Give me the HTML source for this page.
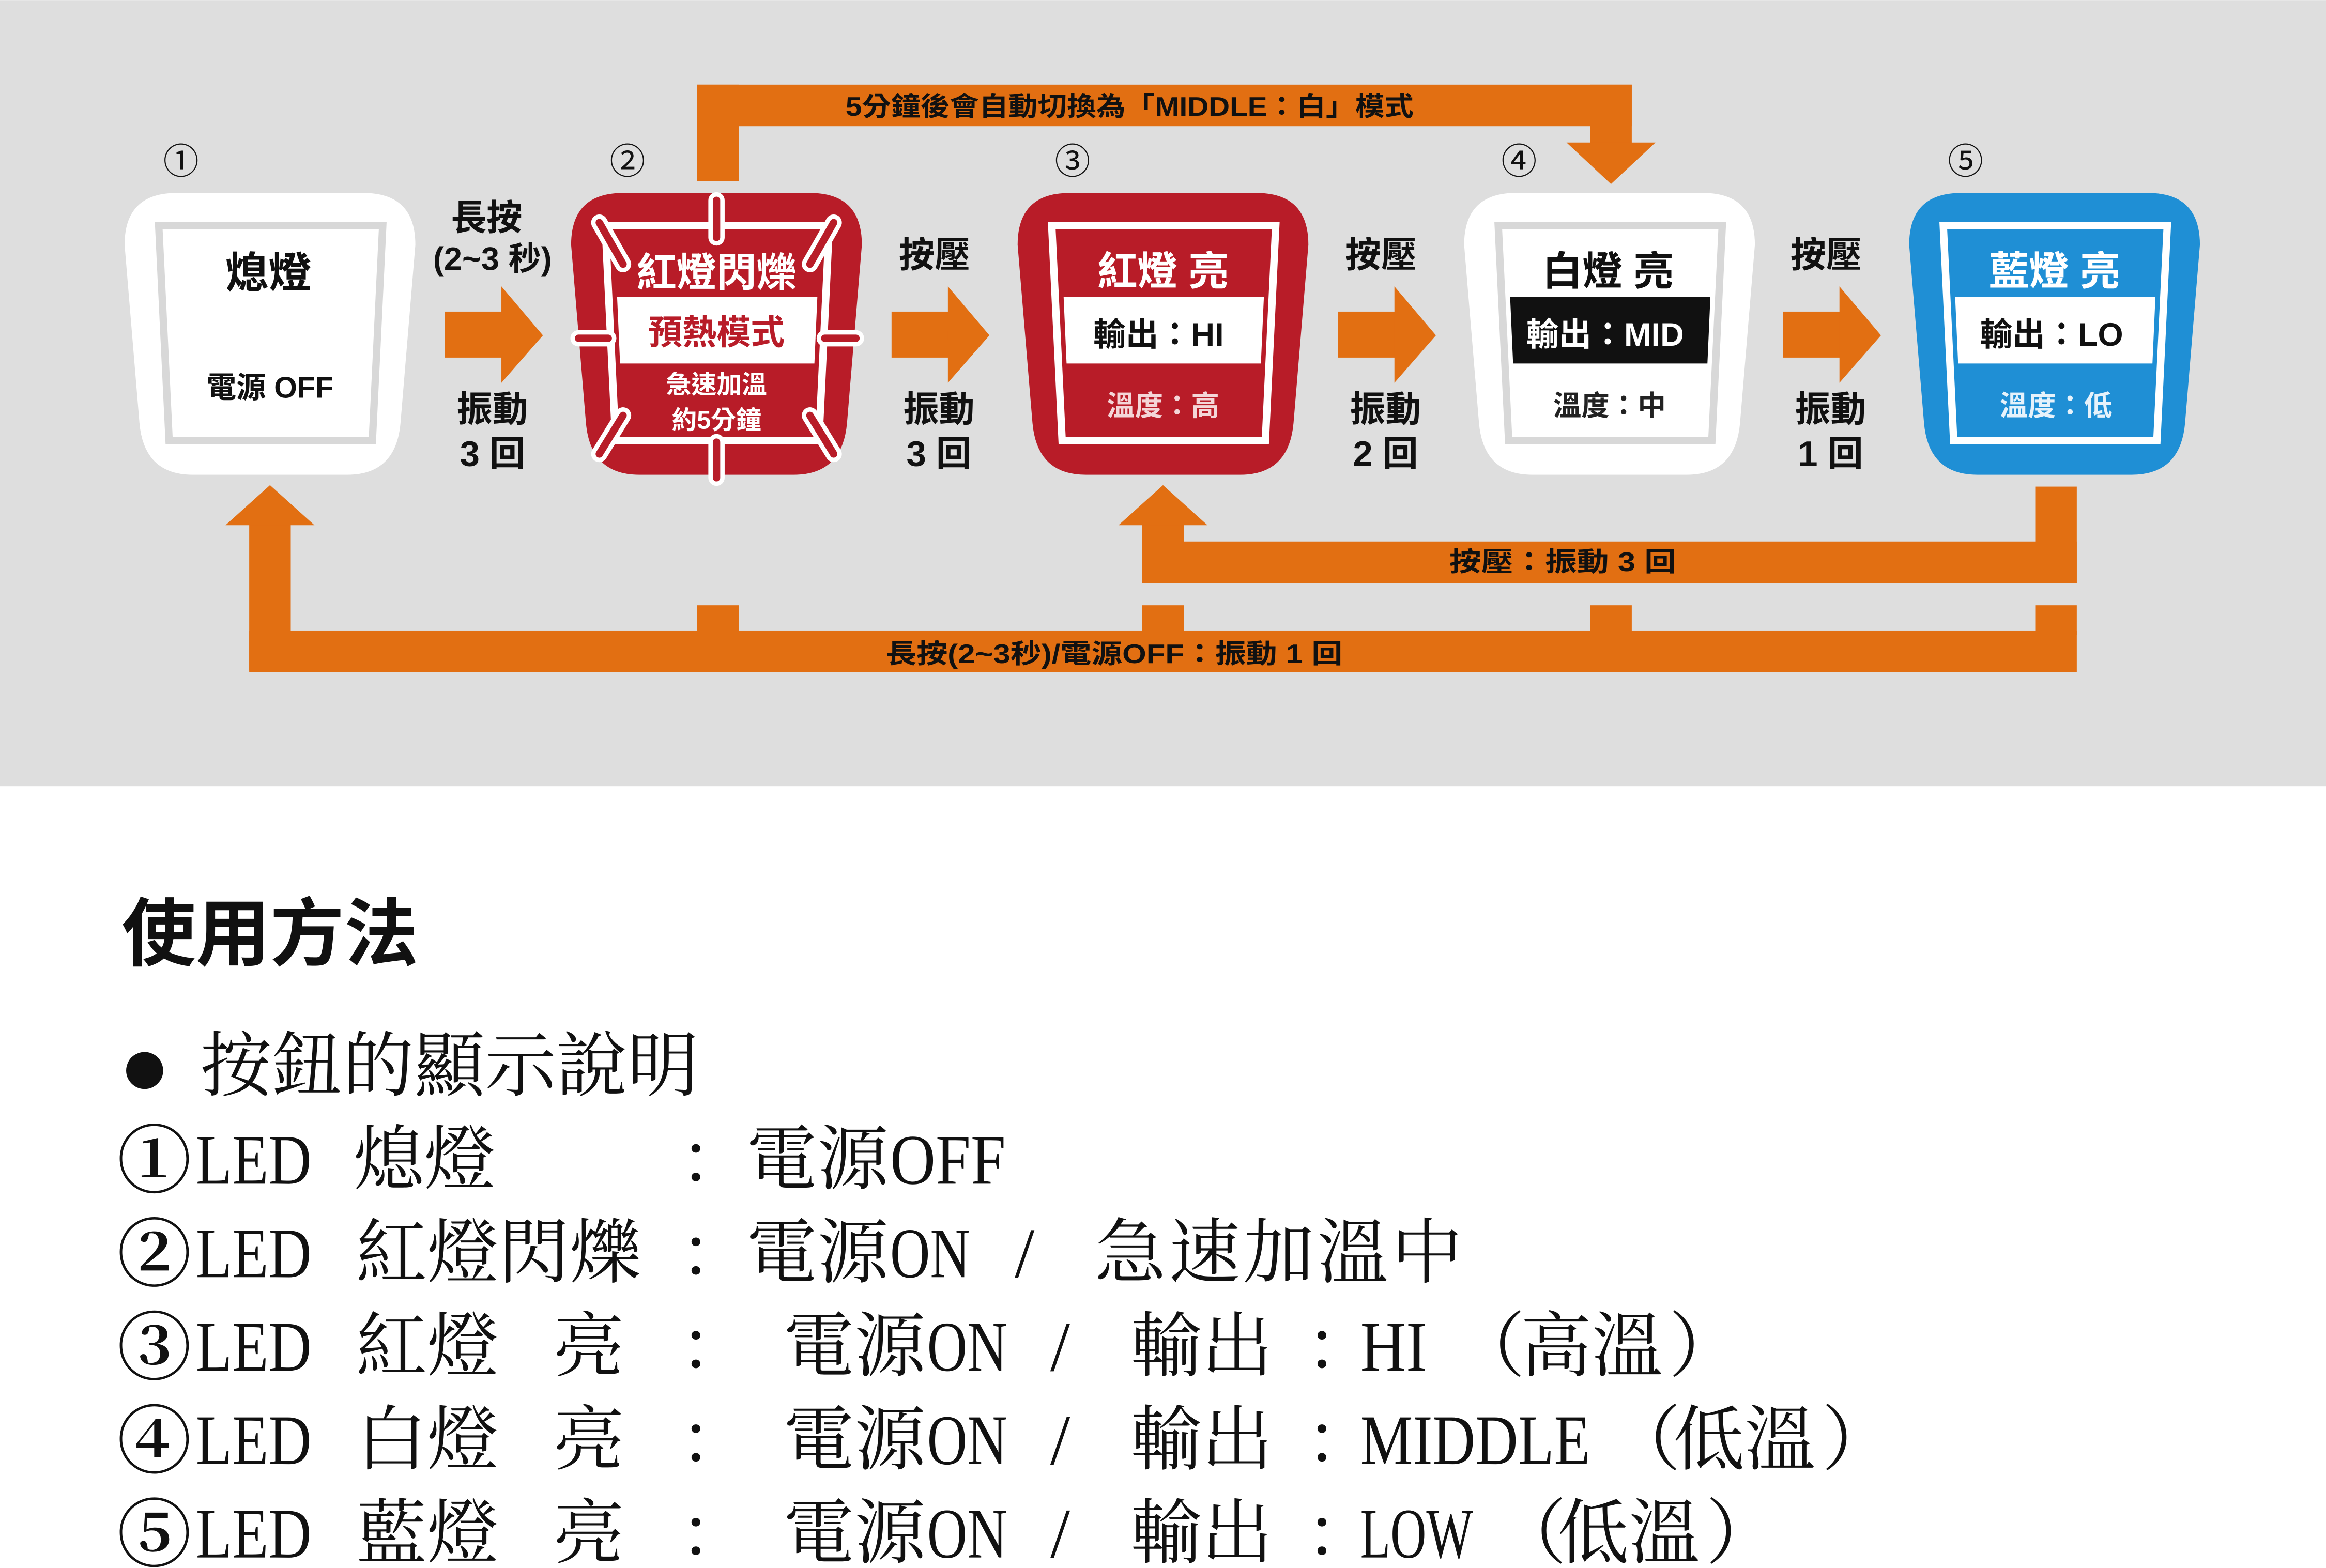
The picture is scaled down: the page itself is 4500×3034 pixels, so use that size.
<!DOCTYPE html>
<html><head><meta charset="utf-8">
<style>
html,body{margin:0;padding:0;background:#fff;}
svg{display:block;}
.s{font-family:"Liberation Sans","Noto Sans CJK TC",sans-serif;font-weight:bold;}
.r{font-family:"Liberation Serif","Noto Serif CJK SC",serif;}
</style></head><body>
<svg width="4500" height="3034" viewBox="0 0 1568 1057" xmlns="http://www.w3.org/2000/svg">
<rect x="0" y="0" width="1568" height="530" fill="#dedede"/>
<rect x="0" y="530" width="1568" height="527" fill="#ffffff"/>

<g fill="#e26f12">
<rect x="470" y="57" width="28" height="65"/>
<rect x="470" y="57" width="630" height="28"/>
<rect x="1072" y="57" width="28" height="40"/>
<polygon points="1056,96 1116,96 1086,124"/>
<rect x="1372" y="328" width="28" height="65"/>
<rect x="770" y="365" width="630" height="28"/>
<rect x="770" y="352" width="28" height="41"/>
<polygon points="754,354 814,354 784,327"/>
<rect x="168" y="425" width="1232" height="28"/>
<rect x="168" y="352" width="28" height="100"/>
<polygon points="152,354 212,354 182,327"/>
<rect x="470" y="408" width="28" height="20"/>
<rect x="770" y="408" width="28" height="20"/>
<rect x="1072" y="408" width="28" height="20"/>
<rect x="1372" y="408" width="28" height="20"/>
<rect x="300" y="210" width="40" height="31"/><polygon points="338,193 366,226 338,258"/>
<rect x="601" y="210" width="40" height="31"/><polygon points="639,193 667,226 639,258"/>
<rect x="902" y="210" width="40" height="31"/><polygon points="940,193 968,226 940,258"/>
<rect x="1202" y="210" width="40" height="31"/><polygon points="1240,193 1268,226 1240,258"/>
</g>
<text x="570" y="78" class="s" font-size="18" textLength="383" lengthAdjust="spacingAndGlyphs" fill="#111">5分鐘後會自動切換為「MIDDLE：白」模式</text>
<text x="977" y="385" class="s" font-size="18" textLength="153" lengthAdjust="spacingAndGlyphs" fill="#111">按壓：振動 3 回</text>
<text x="597" y="447" class="s" font-size="18" textLength="308" lengthAdjust="spacingAndGlyphs" fill="#111">長按(2~3秒)/電源OFF：振動 1 回</text>

<g class="s" fill="#111" text-anchor="middle">
<text x="328" y="155" font-size="24">長按</text>
<text x="332" y="182" font-size="22">(2~3 秒)</text>
<text x="332" y="284" font-size="24">振動</text>
<text x="332" y="314" font-size="24">3 回</text>
<text x="630" y="180" font-size="24">按壓</text>
<text x="633" y="284" font-size="24">振動</text>
<text x="633" y="314" font-size="24">3 回</text>
<text x="931" y="180" font-size="24">按壓</text>
<text x="934" y="284" font-size="24">振動</text>
<text x="934" y="314" font-size="24">2 回</text>
<text x="1231" y="180" font-size="24">按壓</text>
<text x="1234" y="284" font-size="24">振動</text>
<text x="1234" y="314" font-size="24">1 回</text>
</g>
<g font-family="Liberation Sans,'Noto Sans CJK TC',sans-serif" font-size="24" text-anchor="middle" fill="#111">
<text x="122" y="117">①</text><text x="423" y="117">②</text><text x="723" y="117">③</text><text x="1024" y="117">④</text><text x="1325" y="117">⑤</text>
</g>

<path d="M119,130 H245 Q280,130 280,165 L270,285 Q267,320 234,320 H130 Q97,320 94,285 L84,165 Q84,130 119,130Z" fill="#fff"/>
<polygon points="107,152 258,152 251,297 114,297" fill="#fff" stroke="#d8d8d8" stroke-width="5"/>
<text x="181" y="194" class="s" font-size="29" text-anchor="middle" fill="#111">熄燈</text>
<text x="182" y="268" class="s" font-size="20" text-anchor="middle" fill="#111">電源 OFF</text>

<path d="M420,130 H546 Q581,130 581,165 L571,285 Q568,320 535,320 H431 Q398,320 395,285 L385,165 Q385,130 420,130Z" fill="#b81c28"/>
<polygon points="408,152 559,152 552,297 415,297" fill="#b81c28" stroke="#fff" stroke-width="5"/>
<polygon points="416,200 551,200 549,245 418,245" fill="#fff"/>
<text x="483" y="193" class="s" font-size="27" text-anchor="middle" fill="#fff">紅燈閃爍</text>
<text x="483" y="232" class="s" font-size="23" text-anchor="middle" fill="#b81c28">預熱模式</text>
<text x="483" y="265" class="s" font-size="17" text-anchor="middle" fill="#fff">急速加溫</text>
<text x="483" y="289" class="s" font-size="17" text-anchor="middle" fill="#fff">約5分鐘</text>
<g stroke-linecap="round">
<g stroke="#fff" stroke-width="11">
<line x1="483" y1="135" x2="483" y2="160"/><line x1="483" y1="298" x2="483" y2="322"/>
<line x1="390" y1="228" x2="410" y2="228"/><line x1="556" y1="228" x2="577" y2="228"/>
<line x1="404" y1="150" x2="420" y2="178"/><line x1="562" y1="150" x2="546" y2="178"/>
<line x1="404" y1="306" x2="420" y2="280"/><line x1="562" y1="306" x2="546" y2="280"/>
</g>
<g stroke="#b81c28" stroke-width="5">
<line x1="483" y1="135" x2="483" y2="160"/><line x1="483" y1="298" x2="483" y2="322"/>
<line x1="390" y1="228" x2="410" y2="228"/><line x1="556" y1="228" x2="577" y2="228"/>
<line x1="404" y1="150" x2="420" y2="178"/><line x1="562" y1="150" x2="546" y2="178"/>
<line x1="404" y1="306" x2="420" y2="280"/><line x1="562" y1="306" x2="546" y2="280"/>
</g></g>

<path d="M721,130 H847 Q882,130 882,165 L872,285 Q869,320 836,320 H732 Q699,320 696,285 L686,165 Q686,130 721,130Z" fill="#b81c28"/>
<polygon points="709,152 860,152 853,297 716,297" fill="#b81c28" stroke="#fff" stroke-width="5"/>
<polygon points="717,200 852,200 850,245 719,245" fill="#fff"/>
<text x="784" y="192" class="s" font-size="27" text-anchor="middle" fill="#fff">紅燈 亮</text>
<text x="781" y="233" class="s" font-size="22" text-anchor="middle" fill="#111">輸出：HI</text>
<text x="784" y="280" class="s" font-size="19" text-anchor="middle" fill="#f4d6d8">溫度：高</text>

<path d="M1022,130 H1148 Q1183,130 1183,165 L1173,285 Q1170,320 1137,320 H1033 Q1000,320 997,285 L987,165 Q987,130 1022,130Z" fill="#fff"/>
<polygon points="1010,152 1161,152 1154,297 1017,297" fill="#fff" stroke="#d8d8d8" stroke-width="5"/>
<polygon points="1018,200 1153,200 1151,245 1020,245" fill="#111"/>
<text x="1084" y="192" class="s" font-size="27" text-anchor="middle" fill="#111">白燈 亮</text>
<text x="1082" y="233" class="s" font-size="22" text-anchor="middle" fill="#fff">輸出：MID</text>
<text x="1085" y="280" class="s" font-size="19" text-anchor="middle" fill="#222">溫度：中</text>

<path d="M1322,130 H1448 Q1483,130 1483,165 L1473,285 Q1470,320 1437,320 H1333 Q1300,320 1297,285 L1287,165 Q1287,130 1322,130Z" fill="#1f8fd5"/>
<polygon points="1310,152 1461,152 1454,297 1317,297" fill="#1f8fd5" stroke="#fff" stroke-width="5"/>
<polygon points="1318,200 1453,200 1451,245 1320,245" fill="#fff"/>
<text x="1385" y="192" class="s" font-size="27" text-anchor="middle" fill="#fff">藍燈 亮</text>
<text x="1383" y="233" class="s" font-size="22" text-anchor="middle" fill="#111">輸出：LO</text>
<text x="1386" y="280" class="s" font-size="19" text-anchor="middle" fill="#e6f2fb">溫度：低</text>

<text x="82" y="647" font-family="Liberation Sans,'Noto Sans CJK TC',sans-serif" font-weight="bold" font-size="50" fill="#111">使用方法</text>
<g class="r" font-size="48" fill="#111">
<text x="80" y="738" font-size="58">●</text><text x="135" y="735">按鈕的顯示說明</text>

<g font-weight="bold" font-size="50"><text x="79" y="800">①</text><text x="79" y="863">②</text><text x="79" y="926">③</text><text x="79" y="989">④</text><text x="79" y="1052">⑤</text></g>
<text x="132" y="798" textLength="78" lengthAdjust="spacingAndGlyphs">LED</text>
<text x="132" y="861" textLength="78" lengthAdjust="spacingAndGlyphs">LED</text>
<text x="132" y="924" textLength="78" lengthAdjust="spacingAndGlyphs">LED</text>
<text x="132" y="987" textLength="78" lengthAdjust="spacingAndGlyphs">LED</text>
<text x="132" y="1050" textLength="78" lengthAdjust="spacingAndGlyphs">LED</text>

<text x="238" y="798">熄燈</text><text x="458" y="798">：</text><text x="503" y="798">電源</text><text x="600" y="798" textLength="78" lengthAdjust="spacingAndGlyphs">OFF</text>

<text x="240" y="861">紅燈閃爍</text><text x="458" y="861">：</text><text x="503" y="861">電源</text><text x="600" y="861" textLength="54" lengthAdjust="spacingAndGlyphs">ON</text><text x="684" y="861">/</text><text x="738" y="861" letter-spacing="2">急速加溫中</text>

<text x="240" y="924">紅燈</text><text x="373" y="924">亮</text><text x="458" y="924">：</text><text x="528" y="924">電源</text><text x="625" y="924" textLength="54" lengthAdjust="spacingAndGlyphs">ON</text><text x="708" y="924">/</text><text x="762" y="924">輸出</text><text x="880" y="924">：</text><text x="917" y="924" textLength="45" lengthAdjust="spacingAndGlyphs">HI</text><text x="980" y="924">（</text><text x="1025" y="924">高溫</text><text x="1125" y="924">）</text>

<text x="240" y="987">白燈</text><text x="373" y="987">亮</text><text x="458" y="987">：</text><text x="528" y="987">電源</text><text x="625" y="987" textLength="54" lengthAdjust="spacingAndGlyphs">ON</text><text x="708" y="987">/</text><text x="762" y="987">輸出</text><text x="880" y="987">：</text><text x="917" y="987" textLength="155" lengthAdjust="spacingAndGlyphs">MIDDLE</text><text x="1085" y="987">（</text><text x="1128" y="987">低溫</text><text x="1228" y="987">）</text>

<text x="240" y="1050">藍燈</text><text x="373" y="1050">亮</text><text x="458" y="1050">：</text><text x="528" y="1050">電源</text><text x="625" y="1050" textLength="54" lengthAdjust="spacingAndGlyphs">ON</text><text x="708" y="1050">/</text><text x="762" y="1050">輸出</text><text x="880" y="1050">：</text><text x="917" y="1050" textLength="76" lengthAdjust="spacingAndGlyphs">LOW</text><text x="1008" y="1050">（</text><text x="1050" y="1050">低溫</text><text x="1150" y="1050">）</text>
</g>
</svg>
</body></html>
